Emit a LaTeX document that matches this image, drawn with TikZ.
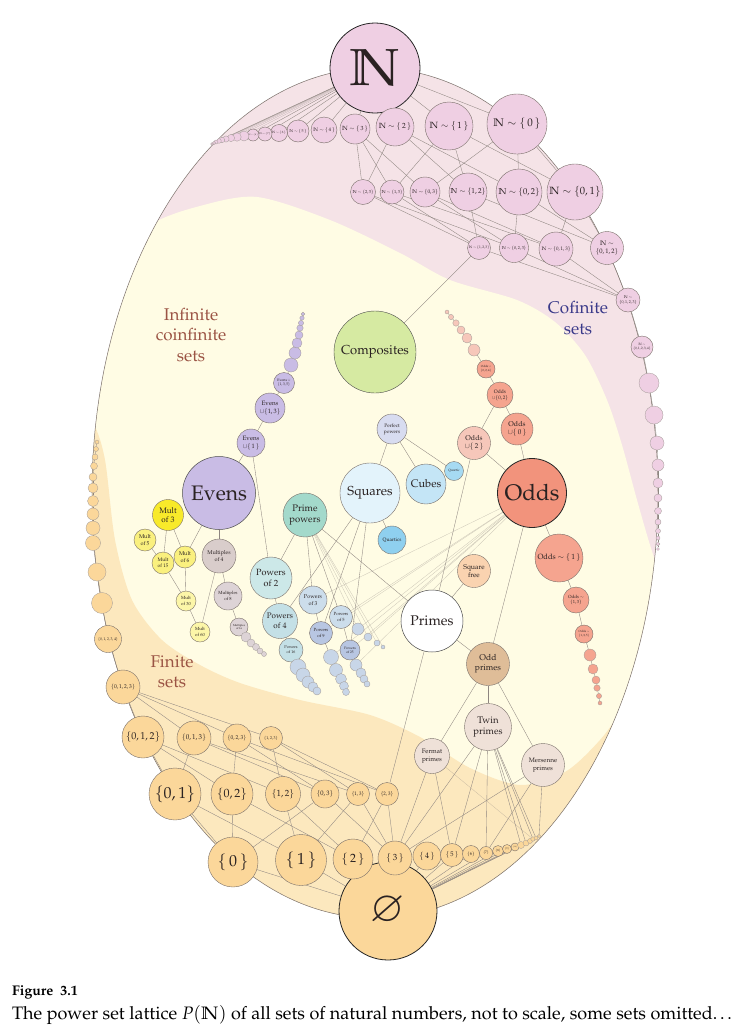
\documentclass[tikz,border=0pt]{standalone}
\usepackage[T1]{fontenc}
\usepackage{amssymb}
\usepackage{mathpazo}
\pgfdeclarelayer{back}
\pgfdeclarelayer{mid}
\pgfsetlayers{back,mid,main}
\newcommand\fsz[1]{\fontsize{#1}{\dimexpr #1pt*118/100\relax}\selectfont}
\definecolor{pinkreg}{HTML}{F5E3E7}
\definecolor{yellowreg}{HTML}{FFFCE4}
\definecolor{orangereg}{HTML}{FCE8BE}
\definecolor{bordc}{HTML}{7A706A}
\definecolor{edgec}{HTML}{8E8580}
\definecolor{txtc}{HTML}{2A2222}
\definecolor{nodeN}{HTML}{EFCFE3}
\definecolor{compc}{HTML}{D6EAA2}
\definecolor{evc}{HTML}{C9BCE5}
\definecolor{oddc}{HTML}{F2937C}
\definecolor{oddl}{HTML}{F5A48F}
\definecolor{oddu}{HTML}{F6C7BA}
\definecolor{sqc}{HTML}{E3F3FB}
\definecolor{cuc}{HTML}{C4E5F6}
\definecolor{qtc}{HTML}{A6DAF2}
\definecolor{qsc}{HTML}{8FD0EF}
\definecolor{pfc}{HTML}{D8DCF0}
\definecolor{ppc}{HTML}{A3D9CB}
\definecolor{p2c}{HTML}{CCE8E8}
\definecolor{p4c}{HTML}{C4E0E6}
\definecolor{p3c}{HTML}{CCDDEB}
\definecolor{p9c}{HTML}{B8C6E2}
\definecolor{ptc}{HTML}{C8D6E8}
\definecolor{m3c}{HTML}{F8EA2A}
\definecolor{m5c}{HTML}{FAF07E}
\definecolor{m30c}{HTML}{FCF6A8}
\definecolor{m4c}{HTML}{D9CDCB}
\definecolor{m8c}{HTML}{DDD3D6}
\definecolor{sfc}{HTML}{FAD3B0}
\definecolor{opc}{HTML}{DFBD98}
\definecolor{twc}{HTML}{EFE1D8}
\definecolor{finc}{HTML}{FBD79A}
\definecolor{labred}{HTML}{9B5444}
\definecolor{labblue}{HTML}{3B3A8A}
\tikzset{
  nd/.style 2 args={circle, draw=bordc, line width=0.4pt, fill=#1, minimum size=#2, inner sep=0pt, align=center, text=txtc},
  tl/.style={circle, draw=bordc!70, line width=0.3pt, fill=#1, inner sep=0pt},
  big/.style={draw=black!85, line width=0.8pt},
  ed/.style={draw=edgec, line width=0.35pt},
  fe/.style={draw=edgec, line width=0.3pt, opacity=0.45},
  lab/.style={align=center, inner sep=0pt}
}
\begin{document}
\begin{tikzpicture}[x=1pt,y=-1pt]
\useasboundingbox (0,0) rectangle (748,1026);
\begin{pgfonlayer}{back}
\fill[white] (0,0) rectangle (748,1026);
\begin{scope}
\clip (375,493) ellipse [x radius=283pt, y radius=425pt];
\fill[pinkreg] (0,0) rectangle (748,1026);
\fill[yellowreg] plot[smooth] coordinates {(100,270) (150,225) (200,206) (257,197) (330,220) (400,253) (450,280) (517,300) (555,322) (585,355) (607,400) (622,445) (637,500) (650,545) (665,590)} -- (748,700) -- (748,1026) -- (0,1026) -- (0,300) -- cycle;
\fill[orangereg] plot[smooth] coordinates {(70,400) (93,423) (105,460) (115,540) (132,600) (162,640) (200,665) (240,683) (300,700) (370,715) (420,737) (470,768) (520,785) (565,772) (600,740) (630,700) (680,640)} -- (748,700) -- (748,1026) -- (0,1026) -- (0,400) -- cycle;
\end{scope}
\draw[bordc, line width=0.5pt] (375,493) ellipse [x radius=283pt, y radius=425pt];
\end{pgfonlayer}

% ---------- region labels
\node[lab, font=\fontsize{17}{20.5}\selectfont, text=labred] (lic) at (191,335) {Infinite\\coinfinite\\sets};
\node[lab, font=\fontsize{17}{20.5}\selectfont, text=labblue] (lcf) at (578,318) {Cofinite\\sets};
\node[lab, font=\fontsize{17}{20.5}\selectfont, text=labred] (lfi) at (172,672) {Finite\\sets};

% ---------- cofinite sets
\node[nd={nodeN}{90pt}, big, font=\fsz{52}] (n) at (375,68) {$\mathbb{N}$};
\node[nd={nodeN}{60pt}, font=\fsz{11}] (c0) at (517,124) {$\mathbb{N}\sim\{\,0\,\}$};
\node[nd={nodeN}{48pt}, font=\fsz{9}] (c1) at (449,126) {$\mathbb{N}\sim\{\,1\,\}$};
\node[nd={nodeN}{38pt}, font=\fsz{7.5}] (c2) at (395,127) {$\mathbb{N}\sim\{\,2\,\}$};
\node[nd={nodeN}{30pt}, font=\fsz{6}] (c3) at (355,129) {$\mathbb{N}\sim\{\,3\,\}$};
\node[nd={nodeN}{26pt}, font=\fsz{5}] (c4) at (324,130) {$\mathbb{N}\sim\{\,4\,\}$};
\node[nd={nodeN}{22pt}, font=\fsz{4}] (c5) at (298,131) {$\mathbb{N}\sim\{\,5\,\}$};
\node[nd={nodeN}{17pt}, font=\fsz{3.2}] (c6) at (279,133) {$\mathbb{N}\sim\{\,6\,\}$};
\node[nd={nodeN}{14pt}, font=\fsz{2.6}] (c7) at (265,134) {$\mathbb{N}\sim\{\,7\,\}$};
\node[nd={nodeN}{12pt}, font=\fsz{2.2}] (c8) at (253,135) {$\mathbb{N}\sim\{\,8\,\}$};
\foreach \x/\y/\r [count=\i] in {244/136/5,237/137/4.2,231/138/3.6,226/139/3.1,222/140/2.7,219/141/2.3,216/142/2,214/143/1.7,212/144/1.4}
  \node[tl=nodeN, minimum size={2*\r*1pt}] (ct\i) at (\x,\y) {};
\node[nd={nodeN}{56pt}, font=\fsz{10.5}] (c01) at (575,192) {$\mathbb{N}\sim\{0,1\}$};
\node[nd={nodeN}{46pt}, font=\fsz{8.5}] (c02) at (519,192) {$\mathbb{N}\sim\{0,2\}$};
\node[nd={nodeN}{38pt}, font=\fsz{7.2}] (c12) at (468,192) {$\mathbb{N}\sim\{1,2\}$};
\node[nd={nodeN}{30pt}, font=\fsz{5.3}] (c03) at (425,192) {$\mathbb{N}\sim\{0,3\}$};
\node[nd={nodeN}{24pt}, font=\fsz{4.3}] (c13) at (392,192) {$\mathbb{N}\sim\{1,3\}$};
\node[nd={nodeN}{25pt}, font=\fsz{4.3}] (c23) at (363,192) {$\mathbb{N}\sim\{2,3\}$};
\node[nd={nodeN}{23pt}, font=\fsz{3.5}] (c123) at (479,248) {$\mathbb{N}\sim\{1,2,3\}$};
\node[nd={nodeN}{29pt}, font=\fsz{4.2}] (c023) at (514,248) {$\mathbb{N}\sim\{0,2,3\}$};
\node[nd={nodeN}{34pt}, font=\fsz{5}] (c013) at (556,249) {$\mathbb{N}\sim\{0,1,3\}$};
\node[nd={nodeN}{33pt}, font=\fsz{6.5}] (c012) at (607,248) {$\mathbb{N}\sim$\\$\{0,1,2\}$};
\node[nd={nodeN}{24pt}, font=\fsz{4}] (c0123) at (628,300) {$\mathbb{N}\sim$\\$\{0,1,2,3\}$};
\node[nd={nodeN}{22pt}, font=\fsz{3.3}] (c01234) at (642,347) {$\mathbb{N}\sim$\\$\{0,1,2,3,4\}$};
\foreach \x/\y/\r [count=\i] in {649/383/10,654/415/9,657/443/7,658/465/6,658/483/5,658/498/4,658/511/3.5,658/522/3,658/531/2.5,658/538/2,658/544/1.8,658/549/1.5}
  \node[tl=nodeN, minimum size={2*\r*1pt}] (cr\i) at (\x,\y) {};

% ---------- infinite coinfinite sets
\node[nd={compc}{82pt}, draw=black!70, font=\fsz{13}] (comp) at (375,352) {Composites};
\node[nd={evc}{73pt}, draw=black!70, line width=0.5pt, font=\fsz{21}] (ev) at (219,493) {Evens};
\node[nd={evc}{28pt}, font=\fsz{6.3}] (ev1) at (251,443) {Evens\\$\cup\{\,1\,\}$};
\node[nd={evc}{30pt}, font=\fsz{6.3}] (ev13) at (270,408) {Evens\\$\cup\{1,3\}$};
\node[nd={evc}{21pt}, font=\fsz{3.6}] (ev135) at (284,383) {Evens $\cup$\\$\{1,3,5\}$};
\foreach \x/\y/\r [count=\i] in {291/365/7,295/353/6,297/343/5,299/335/4,300/328/3.2,301/323/2.6,302/318/2.2,303/314/1.8}
  \node[tl=evc, minimum size={2*\r*1pt}] (et\i) at (\x,\y) {};
\node[nd={m3c}{31pt}, font=\fsz{8}] (m3) at (168,515) {Mult\\of 3};
\node[nd={m5c}{22pt}, font=\fsz{5.5}] (m5) at (145,540) {Mult\\of 5};
\node[nd={m5c}{22pt}, font=\fsz{5}] (m15) at (163,563) {Mult\\of 15};
\node[nd={m5c}{22pt}, font=\fsz{5.5}] (m6) at (185,557) {Mult\\of 6};
\node[nd={m30c}{20pt}, font=\fsz{4.5}] (m30) at (186,601) {Mult\\of 30};
\node[nd={m30c}{20pt}, font=\fsz{4.5}] (m60) at (200,632) {Mult\\of 60};
\node[nd={m4c}{34pt}, font=\fsz{5.5}] (m4) at (219,556) {Multiples\\of 4};
\node[nd={m8c}{28pt}, font=\fsz{4.5}] (m8) at (228,596) {Multiples\\of 8};
\node[nd={m8c}{18pt}, font=\fsz{2.8}] (m16) at (239,627) {Multiples\\of 16};
\foreach \x/\y/\r [count=\i] in {246/637/5,251/643/4,256/647/3.5,260/651/3,264/654/2.5}
  \node[tl=m8c, minimum size={2*\r*1pt}] (mt\i) at (\x,\y) {};

\node[nd={ppc}{44pt}, font=\fsz{9.5}] (pp) at (305,515) {Prime\\powers};
\node[nd={p2c}{42pt}, font=\fsz{9}] (p2) at (271,578) {Powers\\of 2};
\node[nd={p4c}{35pt}, font=\fsz{8}] (p4) at (280,621) {Powers\\of 4};
\node[nd={p4c}{24pt}, font=\fsz{4}] (p16) at (291,650) {Powers\\of 16};
\foreach \x/\y/\r [count=\i] in {298/667/8,303/675/7,308/682/6,313/687/5,317/691/4}
  \node[tl=ptc, minimum size={2*\r*1pt}] (pa\i) at (\x,\y) {};
\node[nd={p3c}{28pt}, font=\fsz{5.5}] (p3) at (313,600) {Powers\\of 3};
\node[nd={p9c}{23pt}, font=\fsz{4.5}] (p9) at (321,633) {Powers\\of 9};
\foreach \x/\y/\r [count=\i] in {331/657/7.5,336/670/6.5,341/679/5.5,344/686/4.5,346/692/3.5}
  \node[tl=ptc, minimum size={2*\r*1pt}] (pb\i) at (\x,\y) {};
\node[nd={p3c}{23pt}, font=\fsz{4.5}] (p5) at (341,617) {Powers\\of 5};
\node[nd={p9c}{20pt}, font=\fsz{3.5}] (p25) at (350,650) {Powers\\of 25};
\foreach \x/\y/\r [count=\i] in {356/665/6,361/673/5,364/679/4,367/684/3}
  \node[tl=ptc, minimum size={2*\r*1pt}] (pc\i) at (\x,\y) {};
\foreach \x/\y/\r [count=\i] in {358/629/6,368/637/4,377/643/3,383/647/2}
  \node[tl=ptc, minimum size={2*\r*1pt}] (pd\i) at (\x,\y) {};

\node[nd={sqc}{60pt}, font=\fsz{13}] (sq) at (370,493) {Squares};
\node[nd={cuc}{40pt}, font=\fsz{11}] (cu) at (426,484) {Cubes};
\node[nd={qtc}{19pt}, font=\fsz{3.3}] (qt) at (454,471) {Quartic};
\node[nd={qsc}{28pt}, font=\fsz{5}] (qs) at (392,540) {Quartics};
\node[nd={pfc}{30pt}, font=\fsz{5}] (pf) at (392,429) {Perfect\\powers};

\node[nd={oddc}{69pt}, big, font=\fsz{22.5}] (od) at (532,493) {Odds};
\node[nd={oddu}{33pt}, font=\fsz{7}] (od2) at (474,443) {Odds\\$\cup\{\,2\,\}$};
\node[nd={oddl}{32pt}, font=\fsz{7}] (od0) at (517,429) {Odds\\$\cup\{\,0\,\}$};
\node[nd={oddl}{26pt}, font=\fsz{5}] (od02) at (500,395) {Odds\\$\cup\{0,2\}$};
\node[nd={oddl}{18pt}, font=\fsz{3}] (od024) at (486,369) {Odds $\cup$\\$\{0,2,4\}$};
\foreach \x/\y/\r [count=\i] in {474/350/6,467/338/5,461/330/4,456/323/3.2,451/317/2.6,447/312/2}
  \node[tl=oddu, minimum size={2*\r*1pt}] (ot\i) at (\x,\y) {};
\node[nd={oddl}{48pt}, font=\fsz{7.5}] (om1) at (559,558) {Odds $\sim\{\,1\,\}$};
\node[nd={oddl}{26pt}, font=\fsz{4.5}] (om13) at (576,600) {Odds $\sim$\\$\{1,3\}$};
\node[nd={oddl}{18pt}, font=\fsz{3}] (om135) at (584,634) {Odds $\sim$\\$\{1,3,5\}$};
\foreach \x/\y/\r [count=\i] in {590/655/6,593/669/5,596/680/4,597/688/3.2,599/696/2.6,600/703/2}
  \node[tl=oddl, minimum size={2*\r*1pt}] (ox\i) at (\x,\y) {};

\node[nd={sfc}{33pt}, font=\fsz{7}] (sf) at (474,571) {Square\\free};
\node[nd={white}{62pt}, draw=black!70, line width=0.5pt, font=\fsz{14}] (pr) at (432,621) {Primes};
\node[nd={opc}{43pt}, font=\fsz{8.5}] (op) at (488,664) {Odd\\primes};
\node[nd={twc}{47pt}, font=\fsz{9.5}] (tw) at (488,727) {Twin\\primes};
\node[nd={twc}{35pt}, font=\fsz{6.5}] (fe) at (432,756) {Fermat\\primes};
\node[nd={twc}{43pt}, font=\fsz{6.5}] (me) at (543,765) {Mersenne\\primes};

% ---------- finite sets
\node[nd={finc}{98pt}, big, font=\fsz{42}] (e) at (388,911) {$\varnothing$};
\node[nd={finc}{50pt}, font=\fsz{16}] (s0) at (233,862) {$\{\,0\,\}$};
\node[nd={finc}{51pt}, font=\fsz{16}] (s1) at (301,860) {$\{\,1\,\}$};
\node[nd={finc}{40pt}, font=\fsz{12}] (s2) at (353,859) {$\{\,2\,\}$};
\node[nd={finc}{34pt}, font=\fsz{9}] (s3) at (395,858) {$\{\,3\,\}$};
\node[nd={finc}{28pt}, font=\fsz{8}] (s4) at (427,856) {$\{\,4\,\}$};
\node[nd={finc}{23pt}, font=\fsz{6.5}] (s5) at (452,855) {$\{\,5\,\}$};
\node[nd={finc}{17pt}, font=\fsz{4.5}] (s6) at (471,854) {$\{6\}$};
\node[nd={finc}{13pt}, font=\fsz{3.5}] (s7) at (486,853) {$\{7\}$};
\node[nd={finc}{11pt}, font=\fsz{3}] (s8) at (498,851) {$\{8\}$};
\node[nd={finc}{9pt}, font=\fsz{2.5}] (s9) at (507,849) {$\{9\}$};
\node[nd={finc}{8pt}, font=\fsz{1.8}] (s10) at (515,847) {$\{10\}$};
\foreach \x/\y/\r [count=\i] in {521/845/3.5,526/843/3,530/841/2.5,533/839/2.2,536/838/2,539/836/1.7}
  \node[tl=finc, minimum size={2*\r*1pt}] (st\i) at (\x,\y) {};
\node[nd={finc}{52pt}, font=\fsz{16}] (s01) at (175,794) {$\{0,1\}$};
\node[nd={finc}{42pt}, font=\fsz{12}] (s02) at (232,794) {$\{0,2\}$};
\node[nd={finc}{35pt}, font=\fsz{9}] (s12) at (283,794) {$\{1,2\}$};
\node[nd={finc}{28pt}, font=\fsz{6.5}] (s03) at (325,794) {$\{0,3\}$};
\node[nd={finc}{23pt}, font=\fsz{5}] (s13) at (358,794) {$\{1,3\}$};
\node[nd={finc}{23pt}, font=\fsz{5}] (s23) at (387,794) {$\{2,3\}$};
\node[nd={finc}{42pt}, font=\fsz{10}] (s012) at (143,737) {$\{0,1,2\}$};
\node[nd={finc}{34pt}, font=\fsz{7}] (s013) at (194,738) {$\{0,1,3\}$};
\node[nd={finc}{28pt}, font=\fsz{5.5}] (s023) at (237,738) {$\{0,2,3\}$};
\node[nd={finc}{23pt}, font=\fsz{4}] (s123) at (271,738) {$\{1,2,3\}$};
\node[nd={finc}{34pt}, font=\fsz{5.5}] (s0123) at (123,687) {$\{0,1,2,3\}$};
\node[nd={finc}{27pt}, font=\fsz{3.8}] (s01234) at (108,639) {$\{0,1,2,3,4\}$};
\foreach \x/\y/\r [count=\i] in {102/603/10.5,97/572/9,93/543/7.5,93/528/7,93/514/6,93/501/5.5,93/488/5,93/477/4,94/466/3.5,95/457/3,96/449/2.5,97/442/2}
  \node[tl=finc, minimum size={2*\r*1pt}] (sl\i) at (\x,\y) {};

% ---------- caption
\node[anchor=base west, inner sep=0pt, font=\fsz{14}\bfseries] (figlab) at (12,995) {Figure\ \ 3.1};
\node[anchor=base west, inner sep=0pt, font=\fsz{18}] (cap) at (12,1019) {The power set lattice $P(\mathbb{N})$ of all sets of natural numbers, not to scale, some sets omitted\ldots};

% ---------- edges
\begin{pgfonlayer}{mid}
\foreach \a in {c0,c1,c2,c3,c4,c5,c6,c7,c8} \draw[ed] (n) -- (\a);
\foreach \i in {1,...,9} \draw[fe] (n) -- (ct\i);
\foreach \a/\b in {c8/ct1,ct1/ct2,ct2/ct3,ct3/ct4,ct4/ct5,ct5/ct6,ct6/ct7,ct7/ct8,ct8/ct9}
  \draw[ed] (\a) -- (\b);
\foreach \a/\b in {c0/c01,c0/c02,c0/c03,c1/c01,c1/c12,c1/c13,c2/c02,c2/c12,c2/c23,c3/c03,c3/c13,c3/c23,
  c01/c012,c01/c013,c02/c012,c02/c023,c12/c012,c12/c123,c03/c013,c03/c023,c13/c013,c13/c123,c23/c023,c23/c123,
  c012/c0123,c013/c0123,c023/c0123,c123/c0123,c0123/c01234,c01234/cr1,
  cr1/cr2,cr2/cr3,cr3/cr4,cr4/cr5,cr5/cr6,cr6/cr7,cr7/cr8,cr8/cr9,cr9/cr10,cr10/cr11,cr11/cr12,
  comp/c123}
  \draw[ed] (\a) -- (\b);
\foreach \a/\b in {ev/ev1,ev1/ev13,ev13/ev135,ev135/et1,et1/et2,et2/et3,et3/et4,et4/et5,et5/et6,et6/et7,et7/et8,
  ev/m6,ev/m4,m3/m6,m3/m15,m5/m15,m15/m30,m6/m30,m30/m60,m4/m60,m4/m8,m8/m16,m16/mt1,mt1/mt2,mt2/mt3,mt3/mt4,mt4/mt5,
  ev1/p2,pp/p2,pp/p3,pp/p5,pp/pr,p2/p4,p4/p16,p16/pa1,pa1/pa2,pa2/pa3,pa3/pa4,pa4/pa5,
  p3/p9,p9/pb1,pb1/pb2,pb2/pb3,pb3/pb4,pb4/pb5,p5/p25,p25/pc1,pc1/pc2,pc2/pc3,pc3/pc4,
  sq/pf,cu/pf,qt/pf,sq/qs,sq/p4,sq/p9,sq/p25,
  od/od2,od/od0,od2/od02,od0/od02,od02/od024,od024/ot1,ot1/ot2,ot2/ot3,ot3/ot4,ot4/ot5,ot5/ot6,
  od2/pr,od/om1,om1/om13,om13/om135,om135/ox1,ox1/ox2,ox2/ox3,ox3/ox4,ox4/ox5,ox5/ox6,
  od/op,pr/sf,pr/op,pr/s23,op/tw,op/fe,op/me,
  fe/s3,fe/s5,tw/s3,tw/s5,tw/s7,tw/st1,tw/st2,tw/st4,tw/st5,me/s3,me/s7,me/st6}
  \draw[ed] (\a) -- (\b);
\foreach \a in {p3,p9,p5,p25,pd1,pd2,pb1,pc1} \draw[fe] (od) -- (\a);
\foreach \a in {pd1,pd2,pd3,pd4} \draw[fe] (pp) -- (\a);
\draw[fe] (fe) -- (st4);
% finite
\foreach \a in {s0,s1,s2,s3,s4,s5,s6,s7,s8,s9,s10} \draw[ed] (e) -- (\a);
\foreach \i in {1,...,6} \draw[fe] (e) -- (st\i);
\foreach \a/\b in {s5/s6,s6/s7,s7/s8,s8/s9,s9/s10,s10/st1,st1/st2,st2/st3,st3/st4,st4/st5,st5/st6,
  s0/s01,s0/s02,s0/s03,s1/s01,s1/s12,s1/s13,s2/s02,s2/s12,s2/s23,s3/s03,s3/s13,s3/s23,
  s01/s012,s01/s013,s02/s012,s02/s023,s12/s012,s12/s123,s03/s013,s03/s023,s13/s013,s13/s123,s23/s023,s23/s123,
  s012/s0123,s013/s0123,s023/s0123,s123/s0123,s0123/s01234,s01234/sl1,
  sl1/sl2,sl2/sl3,sl3/sl4,sl4/sl5,sl5/sl6,sl6/sl7,sl7/sl8,sl8/sl9,sl9/sl10,sl10/sl11,sl11/sl12}
  \draw[ed] (\a) -- (\b);
\end{pgfonlayer}
\end{tikzpicture}
\end{document}
